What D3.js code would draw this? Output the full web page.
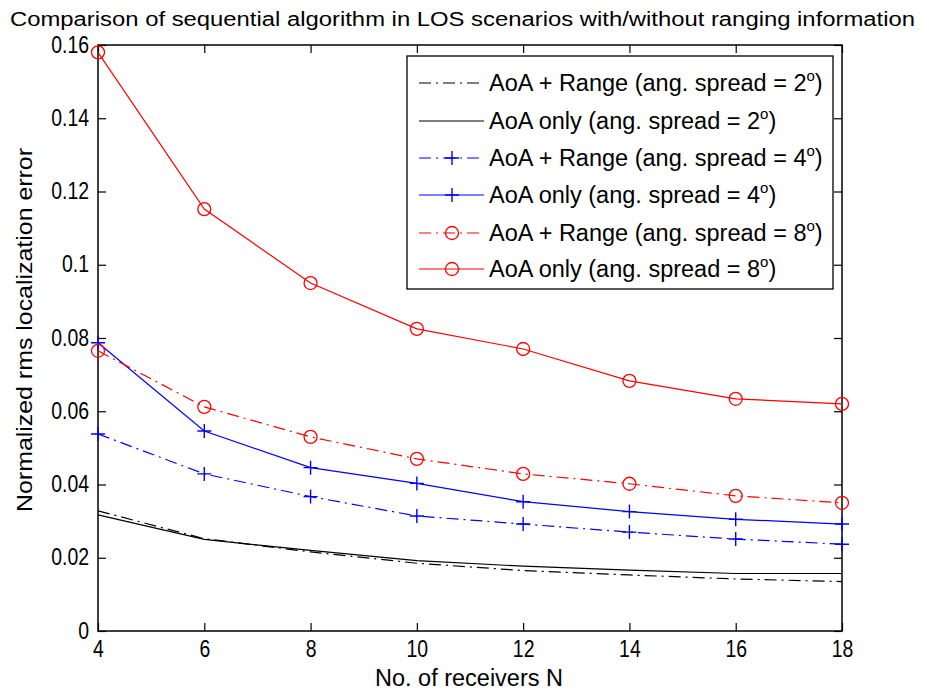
<!DOCTYPE html>
<html><head><meta charset="utf-8">
<script src="https://cdn.jsdelivr.net/npm/d3@7"></script>
<style>
html,body{margin:0;padding:0;background:#fff;}
svg{display:block;}
</style>
</head><body>
<svg id="chart" width="929" height="690"></svg>
<script>
const receivers = [4, 6, 8, 10, 12, 14, 16, 18];
const rangeSpread2 = [0.0328, 0.0252, 0.0216, 0.0185, 0.0165, 0.0153, 0.0142, 0.0135];
const onlySpread2  = [0.0317, 0.0250, 0.0220, 0.0192, 0.0177, 0.0166, 0.0157, 0.0157];
const rangeSpread4 = [0.0538, 0.0429, 0.0367, 0.0314, 0.0292, 0.0270, 0.0251, 0.0237];
const onlySpread4  = [0.0787, 0.0546, 0.0446, 0.0403, 0.0353, 0.0326, 0.0305, 0.0292];
const rangeSpread8 = [0.0765, 0.0612, 0.0530, 0.0470, 0.0429, 0.0402, 0.0369, 0.0350];
const onlySpread8  = [0.1580, 0.1152, 0.0950, 0.0825, 0.0770, 0.0683, 0.0634, 0.0620];
const seriesNames = [
  "AoA + Range (ang. spread = 2", "AoA only (ang. spread = 2",
  "AoA + Range (ang. spread = 4", "AoA only (ang. spread = 4",
  "AoA + Range (ang. spread = 8", "AoA only (ang. spread = 8"
];
const xTicks = [4, 6, 8, 10, 12, 14, 16, 18];
const yTicks = [0, 0.02, 0.04, 0.06, 0.08, 0.1, 0.12, 0.14, 0.16];
const yTickLabels = ["0", "0.02", "0.04", "0.06", "0.08", "0.1", "0.12", "0.14", "0.16"];
const titleText = "Comparison of sequential algorithm in LOS scenarios with/without ranging information";
const xLabel = "No. of receivers N";
const yLabel = "Normalized rms localization error";

const seriesValues = [rangeSpread2, onlySpread2, rangeSpread4, onlySpread4, rangeSpread8, onlySpread8];
const styles = [
  {color: "#000", dash: "12,5,2,5", marker: null},
  {color: "#000", dash: null, marker: null},
  {color: "#0000ff", dash: "12,5,2,5", marker: "plus"},
  {color: "#0000ff", dash: null, marker: "plus"},
  {color: "#ff0000", dash: "12,5,2,5", marker: "circle"},
  {color: "#ff0000", dash: null, marker: "circle"}
];

const svg = d3.select("#chart");
const L = 98, R = 842, T = 45, B = 631;
const x = d3.scaleLinear().domain([4, 18]).range([L, R]);
const y = d3.scaleLinear().domain([0, 0.16]).range([B, T]);
const sans = "'Liberation Sans', Arial, Helvetica, sans-serif";
const SX = 0.81;

// title
svg.append("text").attr("x", 10).attr("y", 26)
  .attr("font-family", sans).attr("font-size", 20).attr("fill", "#000")
  .attr("textLength", 905).attr("lengthAdjust", "spacingAndGlyphs")
  .text(titleText);

// axes
const fmtY = d => yTickLabels[yTicks.indexOf(d)];
const axB = svg.append("g").attr("transform", `translate(0,${B})`)
  .call(d3.axisBottom(x).tickValues(xTicks).tickSize(-8).tickFormat(d3.format("d")));
const axT = svg.append("g").attr("transform", `translate(0,${T})`)
  .call(d3.axisTop(x).tickValues(xTicks).tickSize(-8).tickFormat(""));
const axL = svg.append("g").attr("transform", `translate(${L},0)`)
  .call(d3.axisLeft(y).tickValues(yTicks).tickSize(-8).tickFormat(fmtY));
const axR = svg.append("g").attr("transform", `translate(${R},0)`)
  .call(d3.axisRight(y).tickValues(yTicks).tickSize(-8).tickFormat(""));
[axB, axT, axL, axR].forEach(g => {
  g.select(".domain").remove();
  g.selectAll(".tick line").attr("stroke", "#000").attr("stroke-width", 1.2);
  g.selectAll("text").attr("font-family", sans).attr("font-size", 24).attr("fill", "#000")
    .attr("transform", `scale(${SX},1)`);
});
axB.selectAll("text").attr("y", 26).attr("dy", 0);
axL.selectAll("text").attr("x", -9 / SX).attr("y", 7).attr("dy", 0);

// box
svg.append("rect").attr("x", L).attr("y", T).attr("width", R - L).attr("height", B - T)
  .attr("fill", "none").attr("stroke", "#000").attr("stroke-width", 1.5);

// axis labels
svg.append("text").attr("x", 375).attr("y", 686)
  .attr("font-family", sans).attr("font-size", 23)
  .attr("textLength", 188).attr("lengthAdjust", "spacingAndGlyphs").text(xLabel);
svg.append("text").attr("transform", `translate(32,512) rotate(-90)`)
  .attr("font-family", sans).attr("font-size", 22)
  .attr("textLength", 364).attr("lengthAdjust", "spacingAndGlyphs").text(yLabel);

// lines
const line = d3.line().x((d, i) => x(receivers[i])).y(d => y(d));
const plot = svg.append("g");
function drawMarker(g, type, cx, cy, color) {
  if (type === "plus") {
    g.append("path").attr("d", `M${cx - 7},${cy}H${cx + 7}M${cx},${cy - 7}V${cy + 7}`)
      .attr("stroke", color).attr("stroke-width", 1.4).attr("fill", "none");
  } else if (type === "circle") {
    g.append("circle").attr("cx", cx).attr("cy", cy).attr("r", 6.5)
      .attr("stroke", color).attr("stroke-width", 1.3).attr("fill", "none");
  }
}
seriesValues.forEach((vals, si) => {
  const st = styles[si];
  plot.append("path").datum(vals).attr("d", line).attr("fill", "none")
    .attr("stroke", st.color).attr("stroke-width", 1.2)
    .attr("stroke-dasharray", st.dash);
  if (st.marker) {
    vals.forEach((v, i) => drawMarker(plot, st.marker, x(receivers[i]), y(v), st.color));
  }
});

// legend
const lg = svg.append("g");
lg.append("rect").attr("x", 407).attr("y", 56).attr("width", 426).attr("height", 233)
  .attr("fill", "#fff").attr("stroke", "#000").attr("stroke-width", 1.3);
const rowY = [83, 121, 158, 195, 233, 269];
seriesNames.forEach((name, i) => {
  const st = styles[i];
  const ry = rowY[i];
  lg.append("line").attr("x1", 419).attr("x2", 484).attr("y1", ry).attr("y2", ry)
    .attr("stroke", st.color).attr("stroke-width", 1.2).attr("stroke-dasharray", st.dash);
  if (st.marker) drawMarker(lg, st.marker, 452, ry, st.color);
  const t = lg.append("text").attr("x", 489).attr("y", ry + 8)
    .attr("font-family", sans).attr("font-size", 23.5).attr("fill", "#000");
  t.append("tspan").text(name);
  t.append("tspan").attr("font-size", 15).attr("dy", -10).text("o");
  t.append("tspan").attr("dy", 10).text(")");
});
</script>
</body></html>
